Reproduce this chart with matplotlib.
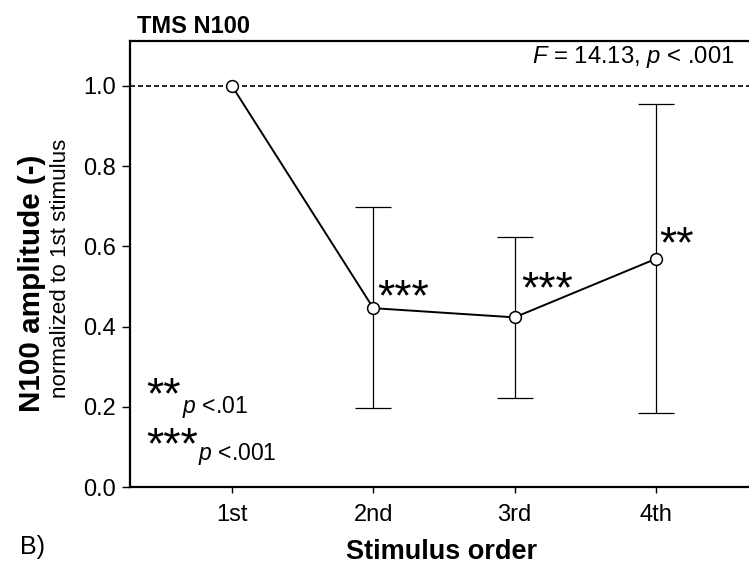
import matplotlib.pyplot as plt

plt.rcParams['font.family'] = ['Liberation Sans', 'DejaVu Sans']
plt.rcParams['mathtext.fontset'] = 'custom'
plt.rcParams['mathtext.it'] = 'Liberation Sans:italic'
plt.rcParams['mathtext.rm'] = 'Liberation Sans'

# normalized N100 amplitude per stimulus position
stim_labels = ['1st', '2nd', '3rd', '4th']
stim_pos = [1, 2, 3, 4]
amp_mean = [1.0, 0.446, 0.423, 0.569]
amp_upper = [1.0, 0.698, 0.624, 0.955]
amp_lower = [1.0, 0.196, 0.222, 0.185]
signif = ['', '***', '***', '**']
star_offsets = [(0, 0), (3, -1.5), (4.5, 10.5), (2.5, 1)]   # points, from each marker

yticks = [0.0, 0.2, 0.4, 0.6, 0.8, 1.0]

W, H = 749, 566
fig = plt.figure(figsize=(W / 100, H / 100), dpi=100)
ax = fig.add_axes([130 / W, (H - 487) / H, (754 - 130) / W, (487 - 41) / H])

err_lo = [m - lo for m, lo in zip(amp_mean, amp_lower)]
err_hi = [hi - m for m, hi in zip(amp_mean, amp_upper)]
ax.errorbar(stim_pos[1:], amp_mean[1:], yerr=[err_lo[1:], err_hi[1:]],
            fmt='none', ecolor='black', elinewidth=0.9, capsize=13.3,
            capthick=0.9, zorder=2)

ax.axhline(1.0, color='black', lw=1.2, ls=(0, (3, 1.8)), zorder=1)

ax.plot(stim_pos, amp_mean, color='black', lw=1.4, marker='o', ms=8.5,
        mfc='white', mec='black', mew=1.1, zorder=3)

for x, y, s, off in zip(stim_pos, amp_mean, signif, star_offsets):
    if s:
        ax.annotate(s, (x, y), xytext=off, textcoords='offset points',
                    fontsize=32, ha='left', va='baseline')

ax.set_xlim(1 - 102 / 141.3, 1 + (754 - 232) / 141.3)
ax.set_ylim(0, 446 / 401)
ax.set_xticks(stim_pos)
ax.set_xticklabels(stim_labels)
ax.set_yticks(yticks)
ax.set_yticklabels([f'{v:.1f}' for v in yticks])
ax.tick_params(axis='y', length=6, width=1.0, pad=4, labelsize=17)
ax.tick_params(axis='x', length=4, width=1.0, pad=8, labelsize=17)

for side in ['left', 'top', 'bottom']:
    ax.spines[side].set_linewidth(1.6)
ax.spines['right'].set_visible(False)

fig.text(137 / W, 1 - 33 / H, 'TMS N100', fontsize=17, fontweight='bold',
         ha='left', va='baseline')
fig.text(735 / W, 1 - 63 / H, r'$F$ = 14.13, $p$ < .001', fontsize=17.2,
         ha='right', va='baseline')

fig.text(32 / W, 1 - 283 / H, 'N100 amplitude (-)', fontsize=21.3,
         fontweight='bold', rotation=90, ha='center', va='center')
fig.text(60 / W, 1 - 268 / H, 'normalized to 1st stimulus', fontsize=16.1,
         rotation=90, ha='center', va='center')
fig.text(442 / W, 1 - 552 / H, 'Stimulus order', fontsize=19.5,
         fontweight='bold', ha='center', va='center')
fig.text(20 / W, 1 - 547 / H, 'B)', fontsize=18, ha='left', va='center')

# significance key
fig.text(146 / W, 1 - 408 / H, '**', fontsize=32, ha='left', va='baseline')
fig.text(182 / W, 1 - 413 / H, r'$p$ <.01', fontsize=16.5, ha='left', va='baseline')
fig.text(146 / W, 1 - 458 / H, '***', fontsize=32, ha='left', va='baseline')
fig.text(198 / W, 1 - 460 / H, r'$p$ <.001', fontsize=16.5, ha='left', va='baseline')

fig.savefig('out.png', dpi=100)
